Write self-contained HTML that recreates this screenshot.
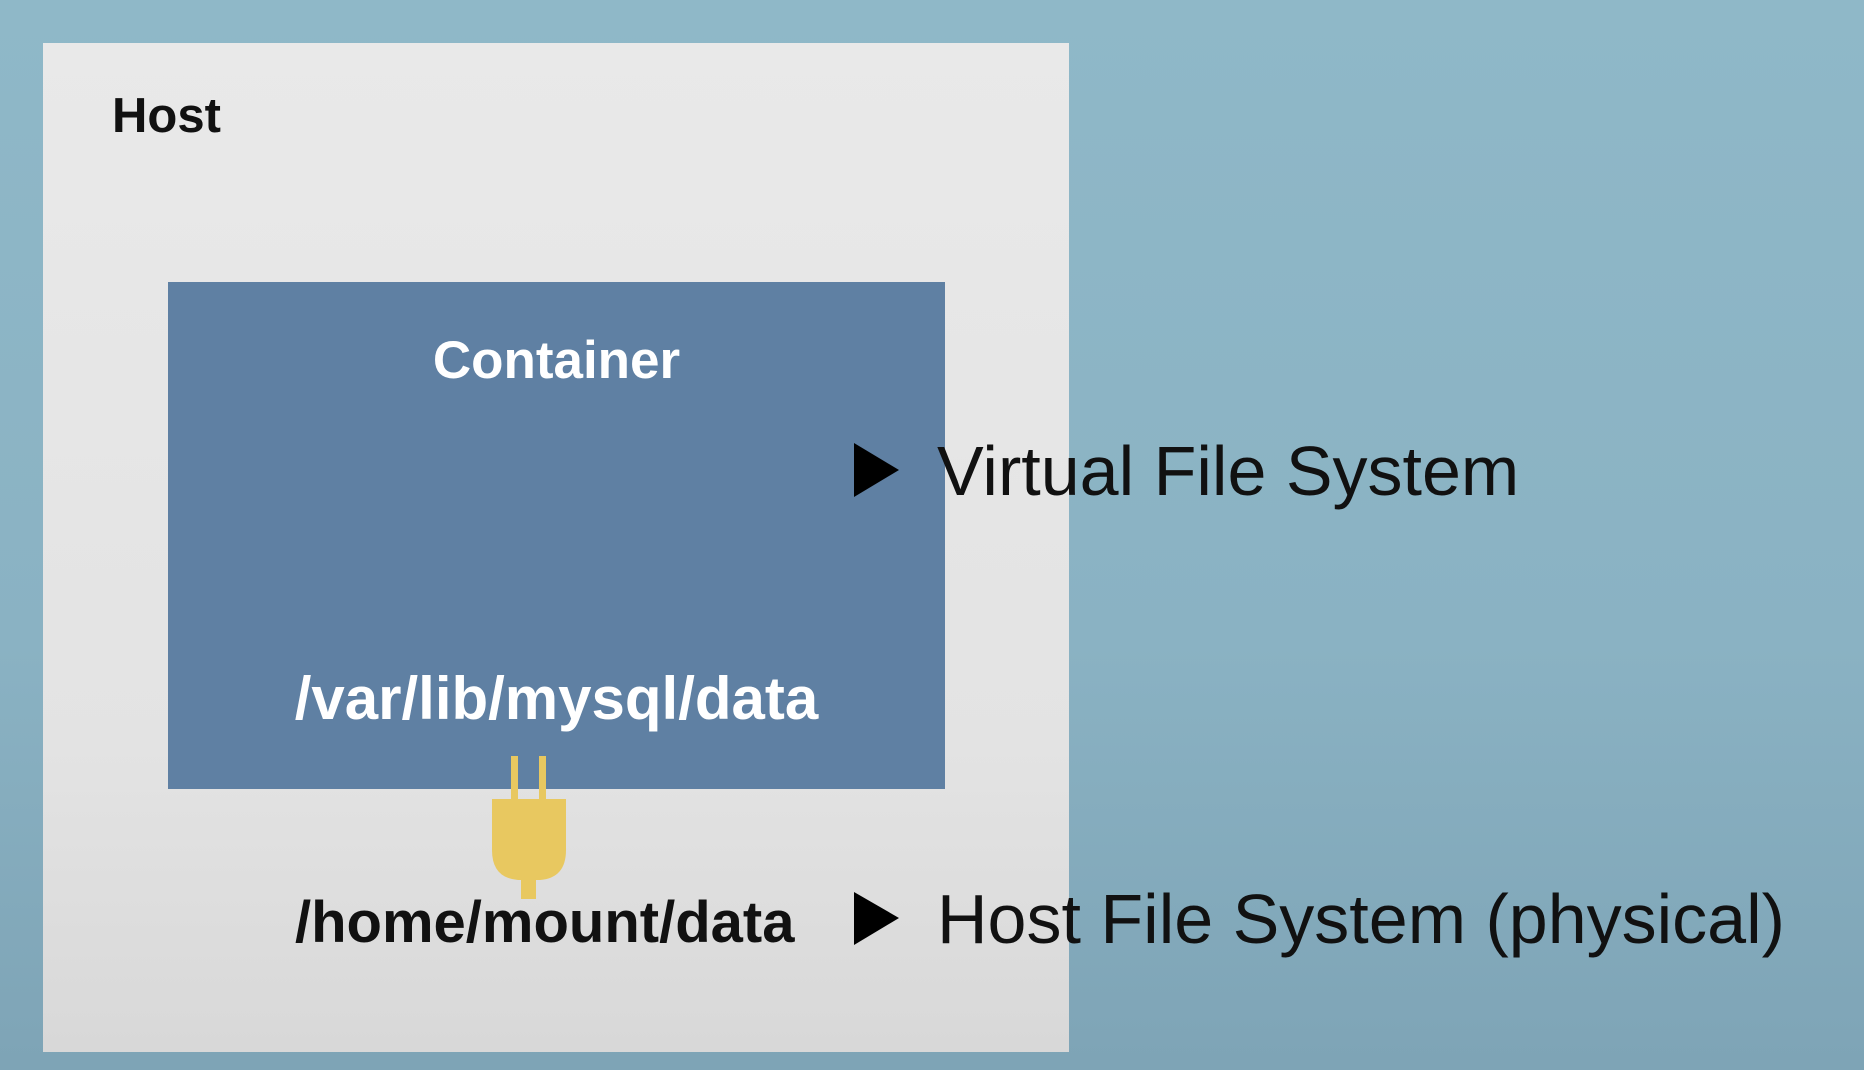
<!DOCTYPE html>
<html><head><meta charset="utf-8"><style>
html,body{margin:0;padding:0}
body{width:1864px;height:1070px;position:relative;overflow:hidden;background:linear-gradient(180deg,#8fb8c8 0%,#8ab2c3 60%,#7ea4b6 100%);font-family:"Liberation Sans",sans-serif}
.abs{position:absolute}
#host{left:43px;top:43px;width:1026px;height:1009px;background:linear-gradient(180deg,#e9e9e9 0%,#e3e3e3 70%,#d8d8d8 100%)}
#cont{left:168px;top:282px;width:777px;height:507px;background:#5f80a3}
.b{font-weight:bold;white-space:nowrap}
.t{font-size:70px;color:#111;white-space:nowrap;line-height:1}
</style></head><body>
<div id="host" class="abs"></div>
<div id="cont" class="abs"></div>
<div class="abs b" style="left:112px;top:92px;font-size:49px;color:#111;line-height:1">Host</div>
<div class="abs b" style="left:168px;width:777px;text-align:center;top:334px;font-size:53px;color:#fff;line-height:1">Container</div>
<div class="abs b" style="left:168px;width:777px;text-align:center;top:669px;font-size:60px;color:#fff;line-height:1">/var/lib/mysql/data</div>
<div class="abs b" style="left:295px;top:894px;font-size:58px;color:#111;line-height:1">/home/mount/data</div>
<svg class="abs" style="left:0;top:0" width="1864" height="1070">
<polygon points="854,443 899,470 854,497" fill="#000"/>
<polygon points="854,892 899,918 854,945" fill="#000"/>
<rect x="511" y="756" width="7" height="45" fill="#e8c860"/>
<rect x="539" y="756" width="7" height="45" fill="#e8c860"/>
<path d="M492,799 H566 V850 Q566,878 540,880 H518 Q492,878 492,850 Z" fill="#e8c860"/>
<rect x="521" y="878" width="15" height="21" fill="#e8c860"/>
</svg>
<div class="abs t" style="left:937px;top:436px">Virtual File System</div>
<div class="abs t" style="left:937px;top:884px">Host File System (physical)</div>
</body></html>
